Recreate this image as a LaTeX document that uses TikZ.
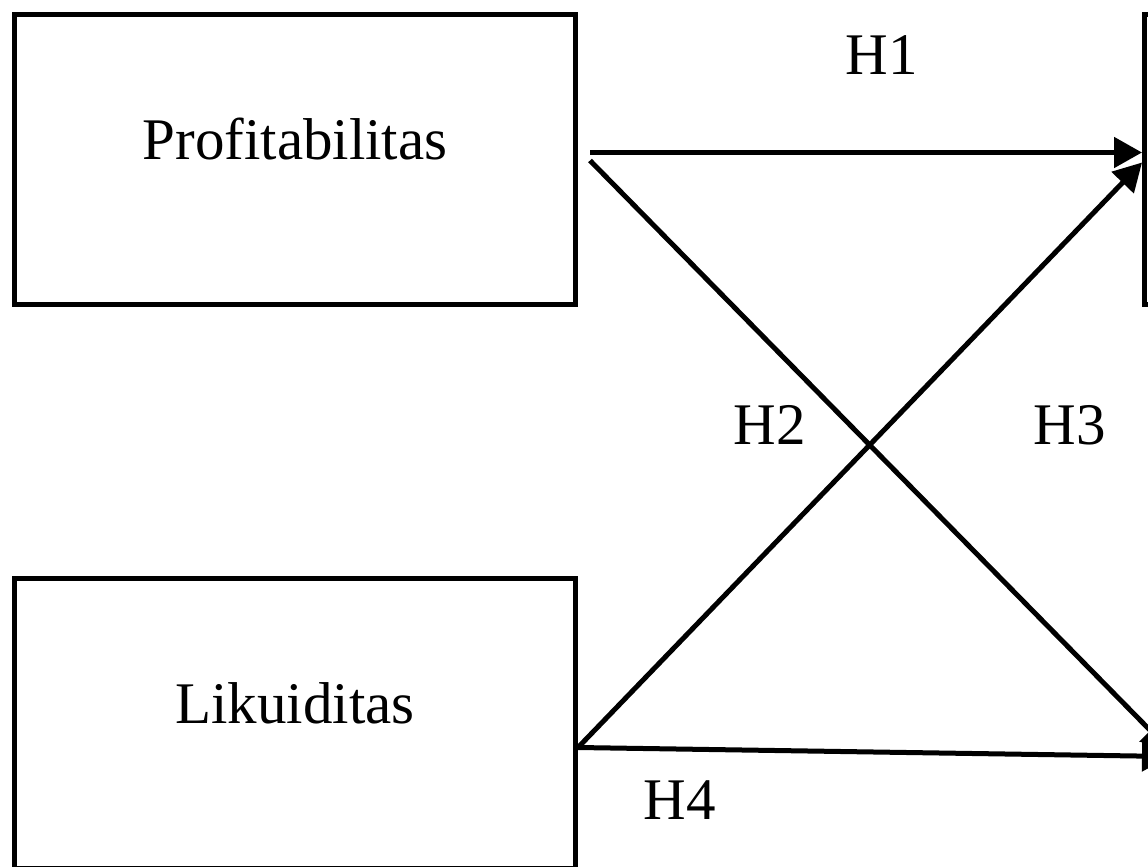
\documentclass[tikz,border=0pt]{standalone}
\usepackage{fontspec}
\setmainfont{Liberation Serif}
\usepackage{tikz}
\usetikzlibrary{arrows.meta,positioning}

\tikzset{
  varbox/.style={draw,line width=5pt,minimum width=561pt,minimum height=290pt,inner sep=0pt},
  varlab/.style={font=\fontsize{59}{62}\selectfont,yshift=20pt},
  hyplab/.style={font=\fontsize{59}{62}\selectfont},
  hyparr/.style={line width=5pt,-{Triangle[length=28pt,width=30pt]}}
}

\begin{document}
\begin{tikzpicture}[x=1pt,y=-1pt]
  \useasboundingbox (0,0) rectangle (1148,867);
  \clip (0,0) rectangle (1148,867);
  % variable boxes
  \node[varbox,label={[varlab]center:Profitabilitas}] (prof) at (295,159.5) {};
  \node[varbox,label={[varlab]center:Likuiditas}] (liq) at (295,723.5) {};
  \node[varbox,anchor=west] (nilai) at (1142,159.5) {};
  \node[varbox,anchor=west] (dep) at (1170,723.5) {};
  % hypotheses
  \draw[hyparr] ([xshift=12pt,yshift=7pt]prof.east) -- ([yshift=7pt]nilai.west);
  \draw[hyparr] ([xshift=12pt,yshift=-1pt]prof.east) -- ([yshift=-27pt]dep.west);
  \draw[hyparr] ([yshift=-24pt]liq.east) -- ([yshift=-3pt]nilai.west);
  \draw[hyparr] ([yshift=-24pt]liq.east) -- ([yshift=-33pt]dep.west);
  \node[hyplab] (h1) at (882,55) {H1};
  \node[hyplab] (h2) at (770,425) {H2};
  \node[hyplab] (h3) at (1070,425) {H3};
  \node[hyplab] (h4) at (680,800) {H4};
\end{tikzpicture}
\end{document}
